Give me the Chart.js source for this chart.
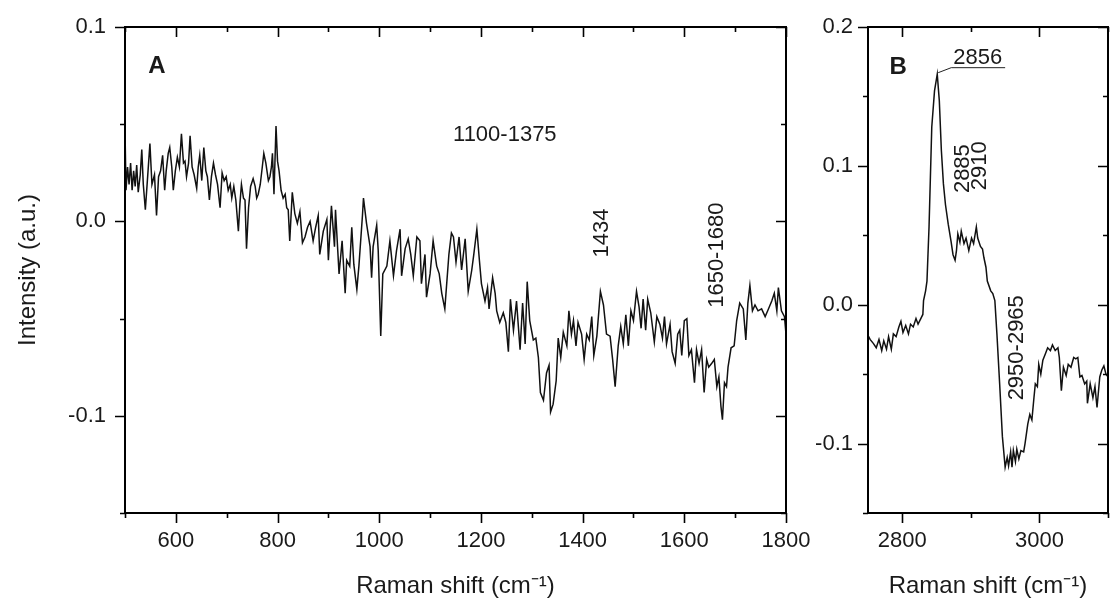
<!DOCTYPE html>
<html>
<head>
<meta charset="utf-8">
<script src="https://cdn.jsdelivr.net/npm/chart.js@4.4.1/dist/chart.umd.min.js"></script>
<style>
  html, body { margin: 0; padding: 0; background: #fff; }
  #wrap { position: relative; width: 1113px; height: 605px; }
  canvas { position: absolute; left: 0; top: 0; }
</style>
</head>
<body>
<div id="wrap">
  <canvas id="panel-a" width="1113" height="605"></canvas>
  <canvas id="panel-b" width="1113" height="605"></canvas>
</div>
<script>
// Panel A: 500-1800 cm-1
const ramanA = [
  500, 502, 505, 508, 511, 514, 517, 520, 523, 526, 530, 533, 536, 540, 544, 549, 553, 558, 562, 566,
  570, 574, 578, 581, 585, 588, 592, 595, 599, 603, 607, 611, 615, 618, 621, 625, 628, 632, 636, 641,
  644, 647, 651, 655, 659, 662, 666, 670, 674, 678, 682, 687, 691, 695, 699, 703, 707, 710, 714, 718,
  723, 726, 729, 733, 736, 739, 743, 747, 752, 756, 759, 762, 766, 770, 773, 777, 782, 785, 788, 790,
  793, 797, 800, 803, 807, 811, 815, 818, 821, 824, 829, 834, 839, 844, 849, 854, 859, 864, 870, 875,
  880, 883, 890, 897, 900, 906, 912, 914, 921, 927, 933, 936, 942, 946, 950, 956, 960, 967, 969, 975,
  982, 985, 988, 995, 998, 1003, 1007, 1015, 1021, 1028, 1034, 1041, 1044, 1051, 1057, 1062, 1067, 1074, 1080, 1083,
  1090, 1093, 1100, 1106, 1113, 1118, 1123, 1129, 1137, 1142, 1146, 1151, 1157, 1162, 1169, 1175, 1182, 1186, 1192, 1197,
  1201, 1208, 1213, 1216, 1223, 1228, 1231, 1237, 1244, 1249, 1254, 1258, 1264, 1270, 1277, 1282, 1287, 1291, 1296, 1303,
  1308, 1313, 1317, 1323, 1329, 1334, 1337, 1342, 1348, 1352, 1357, 1362, 1369, 1373, 1378, 1382, 1387, 1391, 1398, 1403,
  1408, 1413, 1418, 1422, 1428, 1435, 1441, 1447, 1454, 1459, 1464, 1470, 1475, 1480, 1485, 1490, 1495, 1500, 1506, 1511,
  1515, 1519, 1524, 1528, 1534, 1541, 1546, 1552, 1557, 1561, 1565, 1572, 1576, 1582, 1587, 1591, 1595, 1600, 1605, 1609,
  1614, 1620, 1624, 1629, 1634, 1639, 1644, 1648, 1654, 1659, 1664, 1668, 1672, 1675, 1679, 1683, 1686, 1692, 1698, 1703,
  1709, 1716, 1721, 1725, 1729, 1734, 1739, 1745, 1752, 1759, 1764, 1772, 1777, 1782, 1785, 1791, 1797, 1800
];
const intensityA = [
  0.047, 0.016, 0.028, 0.019, 0.030, 0.016, 0.026, 0.018, 0.029, 0.015, 0.024, 0.037, 0.019, 0.006, 0.021, 0.040, 0.019, 0.024, 0.003, 0.023,
  0.026, 0.034, 0.016, 0.026, 0.035, 0.038, 0.028, 0.016, 0.026, 0.033, 0.028, 0.045, 0.030, 0.031, 0.023, 0.030, 0.044, 0.028, 0.024, 0.017,
  0.028, 0.034, 0.021, 0.038, 0.026, 0.023, 0.011, 0.023, 0.030, 0.024, 0.019, 0.007, 0.025, 0.021, 0.023, 0.016, 0.019, 0.012, 0.018, 0.011,
  -0.005, 0.009, 0.019, 0.012, 0.011, -0.014, 0.007, 0.018, 0.022, 0.018, 0.012, 0.014, 0.019, 0.028, 0.035, 0.030, 0.021, 0.023, 0.028, 0.035,
  0.014, 0.049, 0.031, 0.026, 0.016, 0.012, 0.014, 0.007, 0.006, -0.010, 0.015, 0.004, -0.001, 0.005, -0.011, -0.008, -0.003, 0.000, -0.010, -0.003,
  0.003, -0.017, -0.005, 0.001, -0.020, 0.008, -0.013, 0.006, -0.027, -0.010, -0.037, -0.020, -0.023, -0.003, -0.022, -0.035, -0.023, 0.003, 0.012, -0.001,
  -0.013, -0.029, -0.013, -0.002, -0.015, -0.059, -0.027, -0.023, -0.010, -0.028, -0.015, -0.004, -0.028, -0.014, -0.009, -0.017, -0.028, -0.008, -0.010, -0.032,
  -0.017, -0.039, -0.027, -0.010, -0.023, -0.027, -0.037, -0.045, -0.017, -0.006, -0.008, -0.021, -0.008, -0.025, -0.009, -0.036, -0.025, -0.017, -0.004, -0.020,
  -0.032, -0.041, -0.034, -0.045, -0.029, -0.037, -0.046, -0.052, -0.047, -0.052, -0.067, -0.040, -0.056, -0.041, -0.066, -0.042, -0.063, -0.031, -0.051, -0.061,
  -0.060, -0.070, -0.088, -0.092, -0.078, -0.074, -0.098, -0.094, -0.082, -0.060, -0.070, -0.057, -0.064, -0.046, -0.058, -0.051, -0.064, -0.052, -0.058, -0.071,
  -0.058, -0.061, -0.049, -0.069, -0.059, -0.036, -0.043, -0.058, -0.059, -0.071, -0.085, -0.064, -0.054, -0.063, -0.048, -0.064, -0.046, -0.051, -0.036, -0.044,
  -0.055, -0.040, -0.056, -0.040, -0.047, -0.062, -0.049, -0.053, -0.060, -0.049, -0.063, -0.053, -0.067, -0.073, -0.058, -0.056, -0.069, -0.051, -0.050, -0.069,
  -0.066, -0.083, -0.066, -0.073, -0.066, -0.088, -0.071, -0.075, -0.073, -0.071, -0.085, -0.080, -0.095, -0.102, -0.083, -0.085, -0.075, -0.065, -0.064, -0.051,
  -0.042, -0.045, -0.061, -0.042, -0.033, -0.046, -0.043, -0.046, -0.045, -0.049, -0.046, -0.041, -0.037, -0.046, -0.034, -0.046, -0.049, -0.058
];

// Panel B: 2750-3100 cm-1
const ramanB = [
  2750, 2753, 2758, 2762, 2766, 2770, 2773, 2777, 2780, 2784, 2787, 2791, 2795, 2798, 2801, 2805, 2809, 2812, 2816, 2820,
  2823, 2827, 2830, 2831, 2834, 2836, 2839, 2841, 2843, 2847, 2851, 2854, 2857, 2860, 2863, 2867, 2871, 2874, 2877, 2879,
  2881, 2884, 2886, 2890, 2893, 2897, 2901, 2904, 2908, 2910, 2914, 2917, 2919, 2922, 2924, 2929, 2932, 2935, 2938, 2942,
  2946, 2950, 2953, 2955, 2958, 2960, 2962, 2965, 2967, 2970, 2973, 2977, 2979, 2983, 2986, 2989, 2992, 2994, 2997, 2999,
  3002, 3005, 3009, 3012, 3016, 3019, 3023, 3027, 3029, 3032, 3035, 3039, 3042, 3046, 3050, 3053, 3056, 3059, 3062, 3066,
  3069, 3070, 3074, 3078, 3081, 3084, 3088, 3091, 3094, 3097, 3100
];
const intensityB = [
  -0.022, -0.025, -0.028, -0.031, -0.025, -0.033, -0.026, -0.032, -0.023, -0.032, -0.021, -0.023, -0.016, -0.012, -0.020, -0.015, -0.021, -0.014, -0.016, -0.010,
  -0.014, -0.010, -0.007, 0.003, 0.010, 0.017, 0.056, 0.092, 0.128, 0.154, 0.166, 0.147, 0.111, 0.087, 0.072, 0.058, 0.046, 0.036, 0.032, 0.039,
  0.051, 0.045, 0.053, 0.044, 0.048, 0.039, 0.048, 0.044, 0.056, 0.048, 0.042, 0.040, 0.034, 0.027, 0.017, 0.010, 0.008, 0.003, -0.021, -0.057,
  -0.095, -0.117, -0.110, -0.116, -0.106, -0.117, -0.105, -0.113, -0.104, -0.111, -0.105, -0.106, -0.100, -0.086, -0.079, -0.083, -0.067, -0.057, -0.059, -0.043,
  -0.050, -0.040, -0.035, -0.031, -0.033, -0.029, -0.033, -0.031, -0.038, -0.062, -0.045, -0.051, -0.043, -0.045, -0.038, -0.039, -0.038, -0.052, -0.051, -0.057,
  -0.055, -0.071, -0.057, -0.067, -0.059, -0.074, -0.052, -0.047, -0.044, -0.050, -0.052
];

// tick positions, and the labelled (major) ones
const ticksXA = [500, 600, 700, 800, 900, 1000, 1100, 1200, 1300, 1400, 1500, 1600, 1700, 1800];
const ticksYA = [-0.15, -0.1, -0.05, 0.0, 0.05, 0.1];
const ticksXB = [2800, 2900, 3000, 3100];
const ticksYB = [-0.15, -0.1, -0.05, 0.0, 0.05, 0.1, 0.15, 0.2];
const majorXA = [600, 800, 1000, 1200, 1400, 1600, 1800];
const majorYA = [-0.1, 0.0, 0.1];
const majorXB = [2800, 3000];
const majorYB = [-0.1, 0.0, 0.1, 0.2];

const FONT = '"Liberation Sans", Arial, Helvetica, sans-serif';
const INK = '#1a1a1a';
Chart.defaults.font.family = FONT;
Chart.defaults.color = INK;

const near = (list, v) => list.some(m => Math.abs(m - v) < 1e-6);

// frame box + Origin-style ticks (out on bottom/left, in on top/right)
const frameTicks = {
  id: 'frameTicks',
  afterDraw(chart, args, opts) {
    const {ctx, chartArea: a, scales: {x, y}} = chart;
    ctx.save();
    ctx.strokeStyle = '#000';
    ctx.lineWidth = 2;
    ctx.strokeRect(a.left, a.top, a.right - a.left, a.bottom - a.top);
    ctx.lineWidth = 1.6;
    ctx.beginPath();
    x.ticks.forEach(t => {
      const px = Math.round(x.getPixelForValue(t.value)) + 0.5;
      const len = near(opts.majorX, t.value) ? 10 : 5;
      ctx.moveTo(px, a.bottom); ctx.lineTo(px, a.bottom + len);
      ctx.moveTo(px, a.top); ctx.lineTo(px, a.top + len);
    });
    y.ticks.forEach(t => {
      const py = Math.round(y.getPixelForValue(t.value)) + 0.5;
      const len = near(opts.majorY, t.value) ? 10 : 5;
      ctx.moveTo(a.left, py); ctx.lineTo(a.left - len, py);
      ctx.moveTo(a.right, py); ctx.lineTo(a.right - len, py);
    });
    ctx.stroke();
    ctx.restore();
  }
};

// peak labels, placed in data coordinates
const peakNotes = {
  id: 'peakNotes',
  afterDraw(chart, args, opts) {
    const {ctx, scales: {x, y}} = chart;
    ctx.save();
    ctx.fillStyle = INK;
    ctx.textAlign = 'center';
    ctx.textBaseline = 'middle';
    (opts.items || []).forEach(n => {
      ctx.save();
      ctx.translate(x.getPixelForValue(n.x), y.getPixelForValue(n.y));
      if (n.rotate) ctx.rotate(-Math.PI / 2);
      ctx.font = (n.bold ? 'bold ' : '') + (n.size || 22) + 'px ' + FONT;
      ctx.fillText(n.text, 0, 0);
      ctx.restore();
    });
    if (opts.leader) {
      ctx.strokeStyle = '#222';
      ctx.lineWidth = 1;
      ctx.beginPath();
      opts.leader.forEach((p, i) => {
        const px = x.getPixelForValue(p[0]), py = y.getPixelForValue(p[1]);
        if (i === 0) ctx.moveTo(px, py); else ctx.lineTo(px, py);
      });
      ctx.stroke();
    }
    ctx.restore();
  }
};

function makePanel(id, p) {
  return new Chart(document.getElementById(id), {
    type: 'line',
    data: {
      datasets: [{
        data: p.xs.map((v, i) => ({x: v, y: p.ys[i]})),
        borderColor: '#111',
        borderWidth: 1.5,
        pointRadius: 0,
        tension: 0,
        fill: false
      }]
    },
    options: {
      responsive: false,
      animation: false,
      devicePixelRatio: 1,
      layout: {padding: p.padding},
      plugins: {
        legend: {display: false},
        tooltip: {enabled: false},
        frameTicks: {majorX: p.majorX, majorY: p.majorY},
        peakNotes: {items: p.notes, leader: p.leader}
      },
      scales: {
        x: {
          type: 'linear',
          min: p.xMin, max: p.xMax,
          afterBuildTicks: s => { s.ticks = p.ticksX.map(v => ({value: v})); },
          afterFit: s => { s.height = 92; },
          border: {display: false},
          grid: {drawOnChartArea: false, drawTicks: true, tickLength: 10, tickColor: 'rgba(0,0,0,0)'},
          ticks: {
            autoSkip: false, maxRotation: 0, padding: 5,
            font: {size: 22},
            callback: v => near(p.majorX, v) ? String(v) : ''
          },
          title: {display: true, text: 'Raman shift (cm⁻¹)', font: {size: 24}, padding: {top: 0, bottom: 4}}
        },
        y: {
          type: 'linear',
          min: p.yMin, max: p.yMax,
          afterBuildTicks: s => { s.ticks = p.ticksY.map(v => ({value: v})); },
          afterFit: s => { s.width = p.yWidth; },
          border: {display: false},
          grid: {drawOnChartArea: false, drawTicks: true, tickLength: 10, tickColor: 'rgba(0,0,0,0)'},
          ticks: {
            autoSkip: false, padding: p.yPad,
            font: {size: 22},
            callback: v => near(p.majorY, v) ? v.toFixed(1) : ''
          },
          title: {display: p.yTitle, text: 'Intensity (a.u.)', font: {size: 24}, padding: {top: 14, bottom: 0}}
        }
      }
    },
    plugins: [frameTicks, peakNotes]
  });
}

makePanel('panel-a', {
  xs: ramanA, ys: intensityA,
  xMin: 500, xMax: 1800, yMin: -0.15, yMax: 0.1,
  ticksX: ticksXA, ticksY: ticksYA,
  majorX: majorXA, majorY: majorYA,
  padding: {top: 27, right: 327, bottom: 0, left: 0},
  yWidth: 125, yPad: 9, yTitle: true,
  notes: [
    {text: 'A', x: 563, y: 0.0795, bold: true, size: 24},
    {text: '1100-1375', x: 1247, y: 0.0446},
    {text: '1434', x: 1438, y: -0.006, rotate: true},
    {text: '1650-1680', x: 1664, y: -0.0174, rotate: true}
  ]
});

makePanel('panel-b', {
  xs: ramanB, ys: intensityB,
  xMin: 2750, xMax: 3100, yMin: -0.15, yMax: 0.2,
  ticksX: ticksXB, ticksY: ticksYB,
  majorX: majorXB, majorY: majorYB,
  padding: {top: 27, right: 1.5, bottom: 0, left: 780},
  yWidth: 88, yPad: 5, yTitle: false,
  notes: [
    {text: 'B', x: 2794, y: 0.171, bold: true, size: 24},
    {text: '2856', x: 2910, y: 0.1777},
    {text: '2885', x: 2889, y: 0.098, rotate: true},
    {text: '2910', x: 2913, y: 0.1, rotate: true},
    {text: '2950-2965', x: 2967, y: -0.031, rotate: true}
  ],
  leader: [[2852.4, 0.1671], [2871.4, 0.1707], [2950, 0.1707]]
});
</script>
</body>
</html>
